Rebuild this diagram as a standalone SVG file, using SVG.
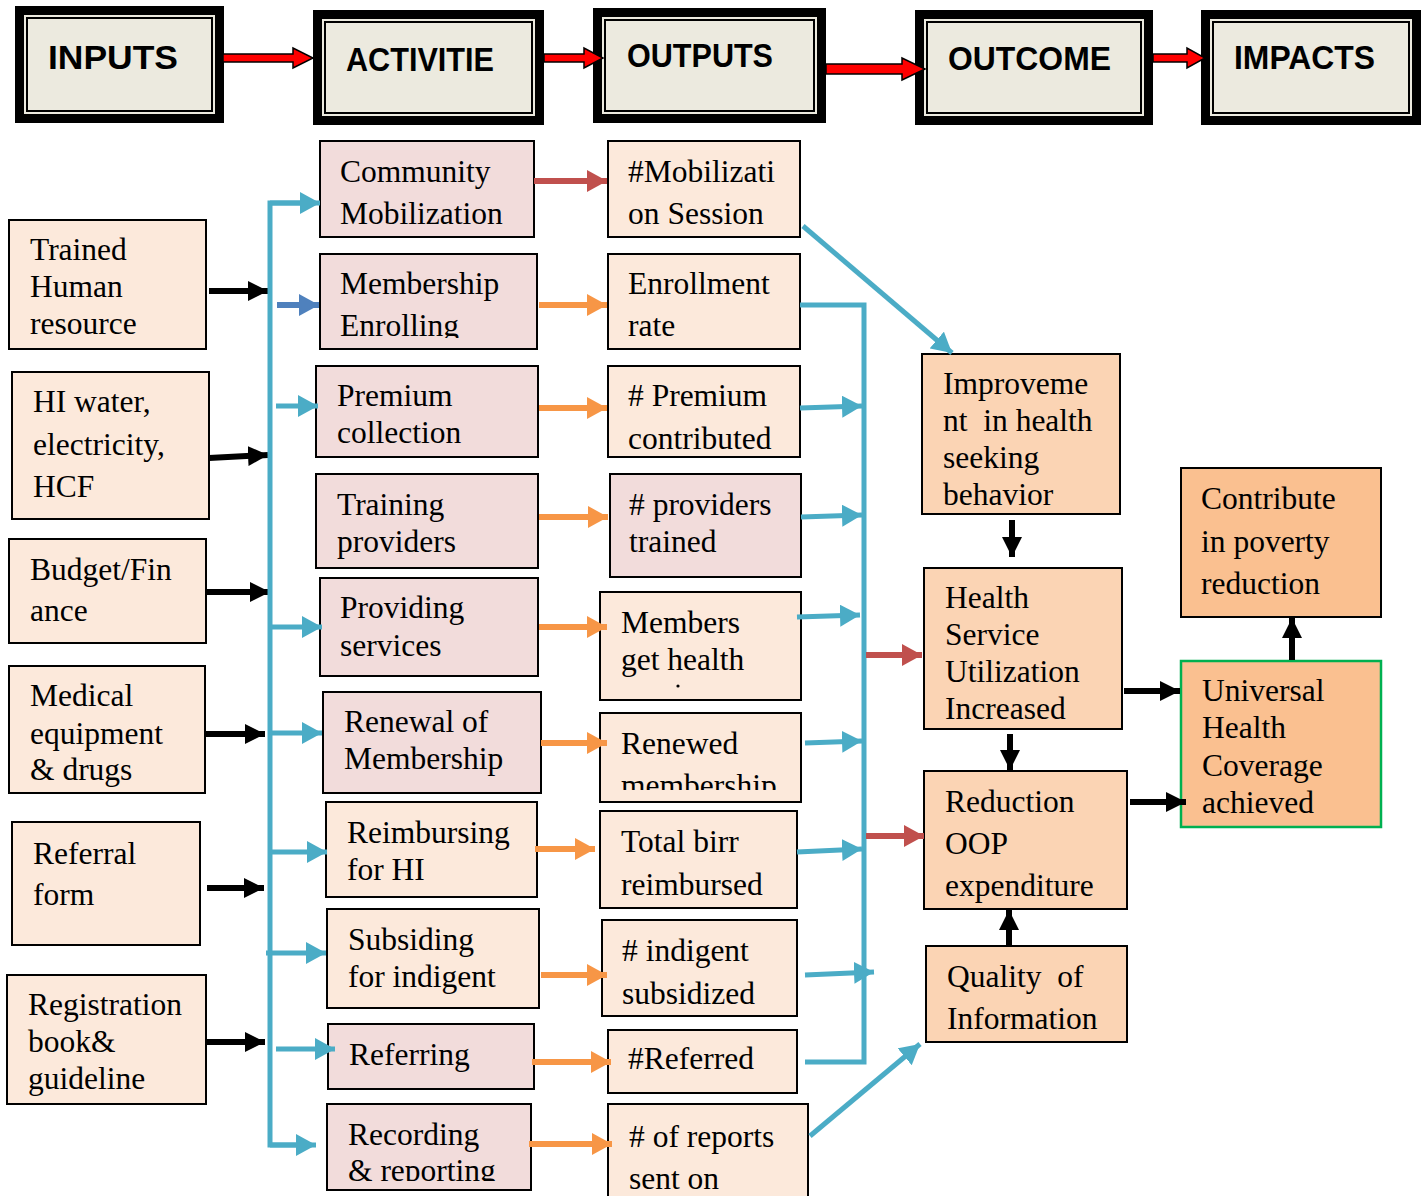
<svg xmlns="http://www.w3.org/2000/svg" width="1424" height="1196" viewBox="0 0 1424 1196">
<style>
.hdrText{font-family:"Liberation Sans",Arial,sans-serif;font-weight:bold;font-size:34px;fill:#000}
.t{font-family:"Liberation Serif","Times New Roman",serif;font-size:31.5px;fill:#000}
.inp{fill:#FCE9DB;stroke:#000;stroke-width:2}
.act{fill:#F2DCDB;stroke:#000;stroke-width:2}
.out{fill:#FCE9DB;stroke:#000;stroke-width:2}
.oc{fill:#FBD4B4;stroke:#000;stroke-width:2}
.imp{fill:#FAC090;stroke:#000;stroke-width:2}
.blue{stroke:#4BACC6;stroke-width:5;fill:none}
.orange{stroke:#F79646;stroke-width:6;fill:none}
.red{stroke:#C0504D;stroke-width:6;fill:none}
.blk{stroke:#000;stroke-width:6;fill:none}
.dblue{stroke:#4F81BD;stroke-width:6;fill:none}
.redarrow{fill:#FF0000;stroke:#000;stroke-width:1.5}
</style>
<defs>
<marker id="mBlue" markerUnits="userSpaceOnUse" markerWidth="20" markerHeight="22" refX="20" refY="11" orient="auto"><path d="M0,0 L20,11 L0,22 z" fill="#4BACC6"/></marker>
<marker id="mOrange" markerUnits="userSpaceOnUse" markerWidth="20" markerHeight="22" refX="20" refY="11" orient="auto"><path d="M0,0 L20,11 L0,22 z" fill="#F79646"/></marker>
<marker id="mRed" markerUnits="userSpaceOnUse" markerWidth="20" markerHeight="22" refX="20" refY="11" orient="auto"><path d="M0,0 L20,11 L0,22 z" fill="#C0504D"/></marker>
<marker id="mDBlue" markerUnits="userSpaceOnUse" markerWidth="20" markerHeight="22" refX="20" refY="11" orient="auto"><path d="M0,0 L20,11 L0,22 z" fill="#4F81BD"/></marker>
<marker id="mBlk" markerUnits="userSpaceOnUse" markerWidth="20" markerHeight="20" refX="20" refY="10" orient="auto"><path d="M0,0 L20,10 L0,20 z" fill="#000"/></marker>
<clipPath id="cEnroll"><rect x="320" y="254" width="217" height="84"/></clipPath>
<clipPath id="cRenewed"><rect x="600" y="713" width="201" height="77"/></clipPath>
<clipPath id="cRecord"><rect x="327" y="1104" width="204" height="77"/></clipPath>
</defs>

<!-- Header nodes -->
<g id="hdr-inputs">
<rect x="15" y="6" width="209" height="117" fill="#000"/>
<rect x="24" y="15" width="191" height="99" fill="#ECEADF"/>
<rect x="27" y="18" width="185" height="93" fill="none" stroke="#000" stroke-width="2"/>
<text class="hdrText" x="48" y="69" textLength="130" lengthAdjust="spacingAndGlyphs">INPUTS</text>
</g>
<g id="hdr-activities">
<rect x="313" y="10" width="231" height="115" fill="#000"/>
<rect x="322" y="19" width="213" height="97" fill="#ECEADF"/>
<rect x="325" y="22" width="207" height="91" fill="none" stroke="#000" stroke-width="2"/>
<text class="hdrText" x="346" y="71" textLength="148" lengthAdjust="spacingAndGlyphs">ACTIVITIE</text>
</g>
<g id="hdr-outputs">
<rect x="593" y="8" width="233" height="115" fill="#000"/>
<rect x="602" y="17" width="215" height="97" fill="#ECEADF"/>
<rect x="605" y="20" width="209" height="91" fill="none" stroke="#000" stroke-width="2"/>
<text class="hdrText" x="627" y="67" textLength="146" lengthAdjust="spacingAndGlyphs">OUTPUTS</text>
</g>
<g id="hdr-outcome">
<rect x="915" y="10" width="238" height="115" fill="#000"/>
<rect x="924" y="19" width="220" height="97" fill="#ECEADF"/>
<rect x="927" y="22" width="214" height="91" fill="none" stroke="#000" stroke-width="2"/>
<text class="hdrText" x="948" y="70" textLength="163" lengthAdjust="spacingAndGlyphs">OUTCOME</text>
</g>
<g id="hdr-impacts">
<rect x="1201" y="10" width="220" height="115" fill="#000"/>
<rect x="1210" y="19" width="202" height="97" fill="#ECEADF"/>
<rect x="1213" y="22" width="196" height="91" fill="none" stroke="#000" stroke-width="2"/>
<text class="hdrText" x="1234" y="69" textLength="141" lengthAdjust="spacingAndGlyphs">IMPACTS</text>
</g>

<!-- Inputs -->
<g id="in-hr"><rect class="inp" x="9" y="220" width="197" height="129"/>
<text class="t" x="30" y="260">Trained</text><text class="t" x="30" y="297">Human</text><text class="t" x="30" y="334">resource</text></g>
<g id="in-water"><rect class="inp" x="12" y="372" width="197" height="147"/>
<text class="t" x="33" y="412">HI water,</text><text class="t" x="33" y="455">electricity,</text><text class="t" x="33" y="497">HCF</text></g>
<g id="in-budget"><rect class="inp" x="9" y="539" width="197" height="104"/>
<text class="t" x="30" y="580">Budget/Fin</text><text class="t" x="30" y="621">ance</text></g>
<g id="in-medical"><rect class="inp" x="9" y="666" width="196" height="127"/>
<text class="t" x="30" y="706">Medical</text><text class="t" x="30" y="744">equipment</text><text class="t" x="30" y="780">&amp; drugs</text></g>
<g id="in-referral"><rect class="inp" x="12" y="822" width="188" height="123"/>
<text class="t" x="33" y="864">Referral</text><text class="t" x="33" y="905">form</text></g>
<g id="in-registration"><rect class="inp" x="7" y="975" width="199" height="129"/>
<text class="t" x="28" y="1015">Registration</text><text class="t" x="28" y="1052">book&amp;</text><text class="t" x="28" y="1089">guideline</text></g>

<!-- Activities -->
<g id="act-community"><rect class="act" x="320" y="141" width="214" height="96"/>
<text class="t" x="340" y="182">Community</text><text class="t" x="340" y="224">Mobilization</text></g>
<g id="act-membership"><rect class="act" x="320" y="254" width="217" height="95"/>
<g clip-path="url(#cEnroll)"><text class="t" x="340" y="294">Membership</text><text class="t" x="340" y="336">Enrolling</text></g></g>
<g id="act-premium"><rect class="act" x="316" y="366" width="222" height="91"/>
<text class="t" x="337" y="406">Premium</text><text class="t" x="337" y="443">collection</text></g>
<g id="act-training"><rect class="act" x="316" y="474" width="222" height="94"/>
<text class="t" x="337" y="515">Training</text><text class="t" x="337" y="552">providers</text></g>
<g id="act-providing"><rect class="act" x="320" y="578" width="218" height="98"/>
<text class="t" x="340" y="618">Providing</text><text class="t" x="340" y="656">services</text></g>
<g id="act-renewal"><rect class="act" x="323" y="692" width="218" height="101"/>
<text class="t" x="344" y="732">Renewal of</text><text class="t" x="344" y="769">Membership</text></g>
<g id="act-reimbursing"><rect class="out" x="326" y="802" width="211" height="95"/>
<text class="t" x="347" y="843">Reimbursing</text><text class="t" x="347" y="880">for HI</text></g>
<g id="act-subsiding"><rect class="out" x="327" y="909" width="212" height="99"/>
<text class="t" x="348" y="950">Subsiding</text><text class="t" x="348" y="987">for indigent</text></g>
<g id="act-referring"><rect class="act" x="328" y="1024" width="206" height="65"/>
<text class="t" x="349" y="1065">Referring</text></g>
<g id="act-recording"><rect class="act" x="327" y="1104" width="204" height="86"/>
<g clip-path="url(#cRecord)"><text class="t" x="348" y="1145">Recording</text><text class="t" x="348" y="1181">&amp; reporting</text></g></g>

<!-- Outputs -->
<g id="out-mobilization"><rect class="out" x="608" y="141" width="192" height="96"/>
<text class="t" x="628" y="182">#Mobilizati</text><text class="t" x="628" y="224">on Session</text></g>
<g id="out-enrollment"><rect class="out" x="608" y="254" width="192" height="95"/>
<text class="t" x="628" y="294">Enrollment</text><text class="t" x="628" y="336">rate</text></g>
<g id="out-premium"><rect class="out" x="608" y="366" width="192" height="91"/>
<text class="t" x="628" y="406"># Premium</text><text class="t" x="628" y="449">contributed</text></g>
<g id="out-providers"><rect class="act" x="610" y="474" width="191" height="103"/>
<text class="t" x="629" y="515"># providers</text><text class="t" x="629" y="552">trained</text></g>
<g id="out-members"><rect class="out" x="600" y="592" width="201" height="108"/>
<text class="t" x="621" y="633">Members</text><text class="t" x="621" y="670">get health</text><circle cx="678" cy="686" r="1.6" fill="#000"/></g>
<g id="out-renewed"><rect class="out" x="600" y="713" width="201" height="89"/>
<g clip-path="url(#cRenewed)"><text class="t" x="621" y="754">Renewed</text><text class="t" x="621" y="796">membership</text></g></g>
<g id="out-totalbirr"><rect class="out" x="600" y="811" width="197" height="97"/>
<text class="t" x="621" y="852">Total birr</text><text class="t" x="621" y="895">reimbursed</text></g>
<g id="out-indigent"><rect class="out" x="602" y="920" width="195" height="96"/>
<text class="t" x="622" y="961"># indigent</text><text class="t" x="622" y="1004">subsidized</text></g>
<g id="out-referred"><rect class="out" x="608" y="1030" width="189" height="63"/>
<text class="t" x="628" y="1069">#Referred</text></g>
<g id="out-reports"><rect class="out" x="608" y="1104" width="200" height="100"/>
<text class="t" x="629" y="1147"># of reports</text><text class="t" x="629" y="1189">sent on</text></g>

<!-- Outcomes -->
<g id="oc-improvement"><rect class="oc" x="922" y="354" width="198" height="160"/>
<text class="t" x="943" y="394">Improveme</text><text class="t" x="943" y="431" xml:space="preserve">nt  in health</text><text class="t" x="943" y="468">seeking</text><text class="t" x="943" y="505">behavior</text></g>
<g id="oc-utilization"><rect class="oc" x="924" y="568" width="198" height="161"/>
<text class="t" x="945" y="608">Health</text><text class="t" x="945" y="645">Service</text><text class="t" x="945" y="682">Utilization</text><text class="t" x="945" y="719">Increased</text></g>
<g id="oc-oop"><rect class="oc" x="924" y="771" width="203" height="138"/>
<text class="t" x="945" y="812">Reduction</text><text class="t" x="945" y="854">OOP</text><text class="t" x="945" y="896">expenditure</text></g>
<g id="oc-quality"><rect class="oc" x="926" y="946" width="201" height="96"/>
<text class="t" x="947" y="987" xml:space="preserve">Quality  of</text><text class="t" x="947" y="1029">Information</text></g>

<!-- Impacts -->
<g id="imp-poverty"><rect class="imp" x="1181" y="468" width="200" height="149"/>
<text class="t" x="1201" y="509">Contribute</text><text class="t" x="1201" y="552">in poverty</text><text class="t" x="1201" y="594">reduction</text></g>
<g id="imp-uhc"><rect x="1181" y="661" width="200" height="166" fill="#FAC090" stroke="#00B050" stroke-width="2.5"/>
<text class="t" x="1202" y="701">Universal</text><text class="t" x="1202" y="738">Health</text><text class="t" x="1202" y="776">Coverage</text><text class="t" x="1202" y="813">achieved</text></g>

<!-- Connectors -->
<g id="connectors">
<!-- header red block arrows -->
<polygon class="redarrow" points="223,54 293,54 293,48 313,58 293,68 293,62 223,62"/>
<polygon class="redarrow" points="544,54 584,54 584,48 603,58 584,68 584,62 544,62"/>
<polygon class="redarrow" points="826,64 902,64 902,58 925,69 902,80 902,74 826,74"/>
<polygon class="redarrow" points="1153,54 1187,54 1187,48 1205,58 1187,68 1187,62 1153,62"/>

<!-- input black arrows -->
<line class="blk" x1="209" y1="291" x2="268" y2="291" marker-end="url(#mBlk)"/>
<line class="blk" x1="209" y1="458" x2="268" y2="455" marker-end="url(#mBlk)"/>
<line class="blk" x1="206" y1="592" x2="270" y2="592" marker-end="url(#mBlk)"/>
<line class="blk" x1="205" y1="734" x2="265" y2="734" marker-end="url(#mBlk)"/>
<line class="blk" x1="207" y1="888" x2="264" y2="888" marker-end="url(#mBlk)"/>
<line class="blk" x1="206" y1="1042" x2="265" y2="1042" marker-end="url(#mBlk)"/>

<!-- blue distribution bus -->
<path class="blue" d="M300,203 H270 V1145 H300"/>
<line class="blue" x1="270" y1="203" x2="320" y2="203" marker-end="url(#mBlue)"/>
<line class="blue" x1="270" y1="1145" x2="316" y2="1145" marker-end="url(#mBlue)"/>
<line class="dblue" x1="277" y1="305" x2="319" y2="305" marker-end="url(#mDBlue)"/>
<line class="blue" x1="276" y1="406" x2="318" y2="406" marker-end="url(#mBlue)"/>
<line class="blue" x1="272" y1="627" x2="322" y2="627" marker-end="url(#mBlue)"/>
<line class="blue" x1="272" y1="733" x2="322" y2="733" marker-end="url(#mBlue)"/>
<line class="blue" x1="272" y1="852" x2="327" y2="852" marker-end="url(#mBlue)"/>
<line class="blue" x1="266" y1="953" x2="326" y2="953" marker-end="url(#mBlue)"/>
<line class="blue" x1="276" y1="1049" x2="335" y2="1049" marker-end="url(#mBlue)"/>

<!-- activities to outputs -->
<line class="red" x1="534" y1="181" x2="607" y2="181" marker-end="url(#mRed)"/>
<line class="orange" x1="539" y1="305" x2="607" y2="305" marker-end="url(#mOrange)"/>
<line class="orange" x1="539" y1="408" x2="607" y2="408" marker-end="url(#mOrange)"/>
<line class="orange" x1="539" y1="517" x2="608" y2="517" marker-end="url(#mOrange)"/>
<line class="orange" x1="539" y1="627" x2="607" y2="627" marker-end="url(#mOrange)"/>
<line class="orange" x1="541" y1="743" x2="607" y2="743" marker-end="url(#mOrange)"/>
<line class="orange" x1="535" y1="849" x2="595" y2="849" marker-end="url(#mOrange)"/>
<line class="orange" x1="541" y1="975" x2="607" y2="975" marker-end="url(#mOrange)"/>
<line class="orange" x1="532" y1="1062" x2="611" y2="1062" marker-end="url(#mOrange)"/>
<line class="orange" x1="529" y1="1144" x2="612" y2="1144" marker-end="url(#mOrange)"/>

<!-- outputs collector -->
<path class="blue" d="M800,305 H864 V1062 H805"/>
<line class="blue" x1="800" y1="408" x2="862" y2="406" marker-end="url(#mBlue)"/>
<line class="blue" x1="801" y1="517" x2="862" y2="515" marker-end="url(#mBlue)"/>
<line class="blue" x1="797" y1="617" x2="860" y2="615" marker-end="url(#mBlue)"/>
<line class="blue" x1="805" y1="743" x2="862" y2="741" marker-end="url(#mBlue)"/>
<line class="blue" x1="797" y1="852" x2="862" y2="849" marker-end="url(#mBlue)"/>
<line class="blue" x1="805" y1="975" x2="874" y2="972" marker-end="url(#mBlue)"/>
<line class="blue" x1="803" y1="226" x2="952" y2="353" marker-end="url(#mBlue)"/>
<line class="blue" x1="810" y1="1136" x2="920" y2="1044" marker-end="url(#mBlue)"/>

<!-- collector to outcomes -->
<line class="red" x1="866" y1="655" x2="922" y2="655" marker-end="url(#mRed)"/>
<line class="red" x1="866" y1="836" x2="924" y2="836" marker-end="url(#mRed)"/>

<!-- outcome/impact black arrows -->
<line class="blk" x1="1012" y1="520" x2="1012" y2="557" marker-end="url(#mBlk)"/>
<line class="blk" x1="1010" y1="734" x2="1010" y2="770" marker-end="url(#mBlk)"/>
<line class="blk" x1="1009" y1="946" x2="1009" y2="910" marker-end="url(#mBlk)"/>
<line class="blk" x1="1124" y1="691" x2="1180" y2="691" marker-end="url(#mBlk)"/>
<line class="blk" x1="1130" y1="802" x2="1186" y2="802" marker-end="url(#mBlk)"/>
<line class="blk" x1="1292" y1="660" x2="1292" y2="618" marker-end="url(#mBlk)"/>
</g>
</svg>
